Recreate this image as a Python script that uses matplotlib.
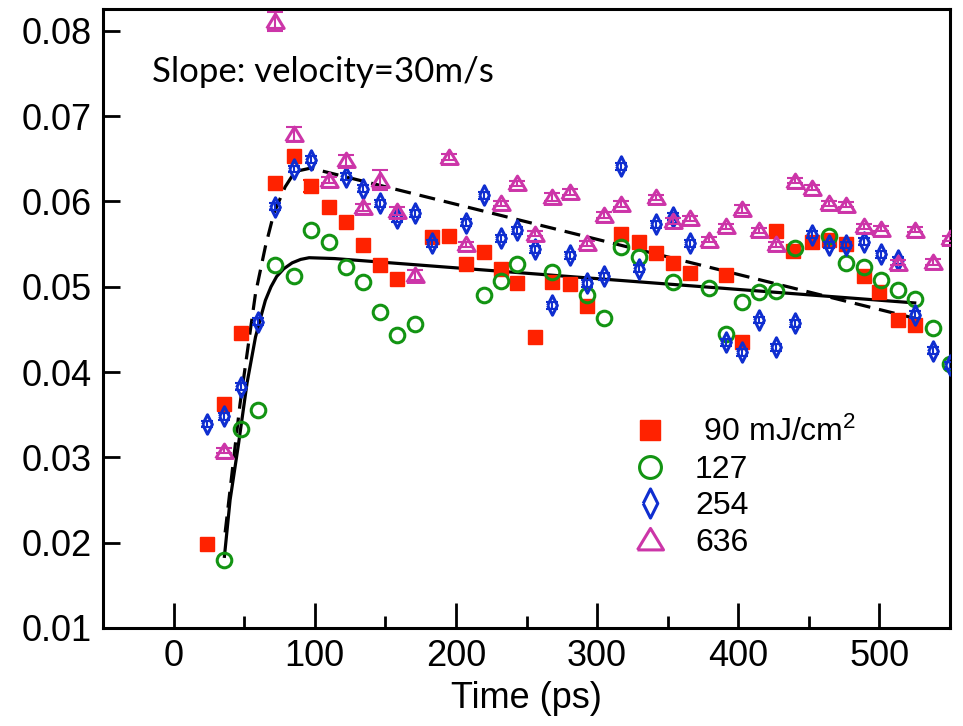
import matplotlib
matplotlib.use("Agg")
import matplotlib.pyplot as plt
from matplotlib.lines import Line2D

plt.rcParams['font.family'] = ['Liberation Sans', 'DejaVu Sans']
plt.rcParams['mathtext.default'] = 'regular'

# 90 mJ/cm2 (red squares)
t_90 = [24, 36, 48, 72, 85, 97, 110, 122, 134, 146, 158, 183, 195, 207, 220, 232, 243,
        256, 268, 281, 293, 317, 330, 342, 354, 366, 391, 403, 427, 439, 452, 464, 476,
        489, 500, 513, 525]
y_90 = [0.0198, 0.0362, 0.0446, 0.0621, 0.0653, 0.0618, 0.0593, 0.0576, 0.0549, 0.0526,
        0.0509, 0.0558, 0.0560, 0.0527, 0.0541, 0.0521, 0.0504, 0.0441, 0.0506, 0.0503,
        0.0477, 0.0562, 0.0552, 0.0540, 0.0528, 0.0516, 0.0514, 0.0435, 0.0565, 0.0542,
        0.0553, 0.0555, 0.0550, 0.0513, 0.0494, 0.0461, 0.0455]

# 127 (green circles)
t_127 = [36, 48, 60, 72, 85, 97, 110, 122, 134, 146, 158, 171, 220, 232, 243, 268, 293,
         305, 317, 330, 354, 379, 391, 403, 415, 427, 440, 464, 476, 489, 501, 513, 525,
         538, 550]
y_127 = [0.0180, 0.0333, 0.0356, 0.0525, 0.0512, 0.0566, 0.0553, 0.0523, 0.0505, 0.0470,
         0.0443, 0.0456, 0.0490, 0.0507, 0.0527, 0.0517, 0.0490, 0.0463, 0.0547, 0.0535,
         0.0505, 0.0498, 0.0445, 0.0482, 0.0494, 0.0495, 0.0545, 0.0559, 0.0528, 0.0523,
         0.0508, 0.0496, 0.0486, 0.0452, 0.0410]

# 254 (blue diamonds)
t_254 = [24, 36, 48, 60, 72, 85, 97, 122, 134, 146, 158, 171, 183, 207, 220, 232, 243,
         256, 268, 281, 293, 305, 317, 330, 342, 354, 366, 391, 403, 415, 427, 440, 452,
         464, 476, 489, 501, 513, 525, 538, 550]
y_254 = [0.0339, 0.0348, 0.0383, 0.0459, 0.0594, 0.0638, 0.0649, 0.0629, 0.0615, 0.0598,
         0.0580, 0.0586, 0.0551, 0.0575, 0.0607, 0.0557, 0.0566, 0.0544, 0.0478, 0.0537,
         0.0504, 0.0512, 0.0641, 0.0521, 0.0573, 0.0582, 0.0551, 0.0435, 0.0423, 0.0461,
         0.0429, 0.0457, 0.0561, 0.0549, 0.0549, 0.0553, 0.0538, 0.0531, 0.0467, 0.0425,
         0.0408]

# 636 (magenta triangles)
t_636 = [36, 72, 85, 110, 122, 134, 146, 158, 171, 195, 207, 232, 243, 256, 268, 281, 293,
         305, 317, 342, 354, 366, 379, 391, 403, 415, 427, 440, 452, 464, 476, 489, 501,
         513, 525, 538, 550]
y_636 = [0.0308, 0.0811, 0.0679, 0.0625, 0.0648, 0.0593, 0.0625, 0.0589, 0.0514, 0.0652,
         0.0550, 0.0598, 0.0621, 0.0562, 0.0605, 0.0611, 0.0551, 0.0584, 0.0597, 0.0605,
         0.0577, 0.0580, 0.0555, 0.0571, 0.0591, 0.0566, 0.0550, 0.0624, 0.0616, 0.0598,
         0.0596, 0.0571, 0.0568, 0.0528, 0.0567, 0.0529, 0.0557]
err_636 = [0.0003, 0.0011, 0.0008, 0.0004, 0.0006, 0.0004, 0.0012, 0.0005, 0.0006, 0.0003,
           0.0003, 0.0003, 0.0003, 0.0003, 0.0005, 0.0003, 0.0003, 0.0003, 0.0003, 0.0003,
           0.0003, 0.0003, 0.0003, 0.0003, 0.0005, 0.0003, 0.0003, 0.0003, 0.0003, 0.0003,
           0.0003, 0.0003, 0.0003, 0.0003, 0.0003, 0.0003, 0.0003]
err_254 = 0.0004
err_90_t = [97]
err_90_y = [0.0618]
err_90 = [0.0007]

# fit curves
fit_solid_t = [36, 40, 46, 52, 58, 62, 65, 69, 73, 78, 84, 90, 96, 114, 525]
fit_solid_y = [0.0184, 0.0250, 0.0316, 0.0387, 0.0441, 0.0466, 0.0484, 0.0500, 0.0512,
               0.0521, 0.0528, 0.0532, 0.0534, 0.0533, 0.0481]
fit_dash_t = [36.5, 47, 58, 65, 71, 79, 86, 97, 525]
fit_dash_y = [0.0212, 0.0362, 0.0492, 0.0547, 0.0586, 0.0617, 0.0635, 0.0639, 0.0463]

labels = [' 90 mJ/cm$^2$', '127', '254', '636']
c_red = '#ff2200'
c_green = '#139413'
c_blue = '#0f2ed0'
c_mag = '#cc35a8'

diamond = [(-0.5, 0), (0, 1), (0.5, 0), (0, -1), (-0.5, 0)]
triangle = [(-1, -0.8), (1, -0.8), (0, 0.85), (-1, -0.8)]

fig = plt.figure(figsize=(9.63, 7.26), dpi=100)
ax = fig.add_axes([0.107, 0.135, 0.8795, 0.852])

ax.plot(fit_solid_t, fit_solid_y, color='black', lw=2.3, zorder=3)
ax.plot(fit_dash_t, fit_dash_y, color='black', lw=2.3, linestyle=(0, (5, 2.8)), zorder=3)

ax.errorbar(err_90_t, err_90_y, yerr=err_90, fmt='none', ecolor=c_red, elinewidth=1.5,
            capsize=6, capthick=1.5, zorder=4)
ax.plot(t_90, y_90, linestyle='none', marker='s', ms=9.6, color=c_red, mec=c_red,
        zorder=4)
ax.plot(t_127, y_127, linestyle='none', marker='o', ms=10.5, mfc='none', mec=c_green,
        mew=2.2, zorder=5)
ax.errorbar(t_254, y_254, yerr=err_254, fmt='none', ecolor=c_blue, elinewidth=1.5,
            capsize=4, capthick=1.5, zorder=6)
ax.plot(t_254, y_254, linestyle='none', marker=diamond, ms=14, mfc='none', mec=c_blue,
        mew=2.2, zorder=6)
ax.errorbar(t_636, y_636, yerr=err_636, fmt='none', ecolor=c_mag, elinewidth=1.5,
            capsize=6, capthick=1.5, zorder=7)
ax.plot(t_636, y_636, linestyle='none', marker=triangle, ms=12.5, mfc='none', mec=c_mag,
        mew=2.2, zorder=7)

ax.set_xlim(-50, 550)
ax.set_ylim(0.01, 0.0825)
ax.set_xticks([0, 100, 200, 300, 400, 500])
ax.set_xticks([50, 150, 250, 350, 450], minor=True)
ax.set_yticks([0.01, 0.02, 0.03, 0.04, 0.05, 0.06, 0.07, 0.08])
ax.set_yticklabels(['0.01', '0.02', '0.03', '0.04', '0.05', '0.06', '0.07', '0.08'])
ax.tick_params(axis='both', which='major', direction='in', labelsize=26, width=2,
               pad=8)
ax.tick_params(axis='x', which='major', length=18)
ax.tick_params(axis='y', which='major', length=12)
ax.tick_params(axis='x', which='minor', direction='in', length=9, width=2)
for s in ax.spines.values():
    s.set_linewidth(2.2)

ax.set_xlabel('Time (ps)', fontsize=26, labelpad=5)

ax.text(0.0575, 0.883, 'Slope: velocity=30m/s', transform=ax.transAxes,
        fontsize=25, family=['Lato', 'DejaVu Sans'], va='baseline', ha='left')

handles = [
    Line2D([], [], linestyle='none', marker='s', ms=9.6, color=c_red),
    Line2D([], [], linestyle='none', marker='o', ms=10.5, mfc='none', mec=c_green, mew=2.2),
    Line2D([], [], linestyle='none', marker=diamond, ms=14, mfc='none', mec=c_blue, mew=2.2),
    Line2D([], [], linestyle='none', marker=triangle, ms=12.5, mfc='none', mec=c_mag, mew=2.2),
]
ax.legend(handles, labels, loc='upper left', bbox_to_anchor=(0.597, 0.377), frameon=False,
          fontsize=23, markerscale=1.5, handlelength=1.2, handletextpad=0.8,
          labelspacing=0.2, borderpad=0.2)

fig.savefig('out.png', dpi=100)
